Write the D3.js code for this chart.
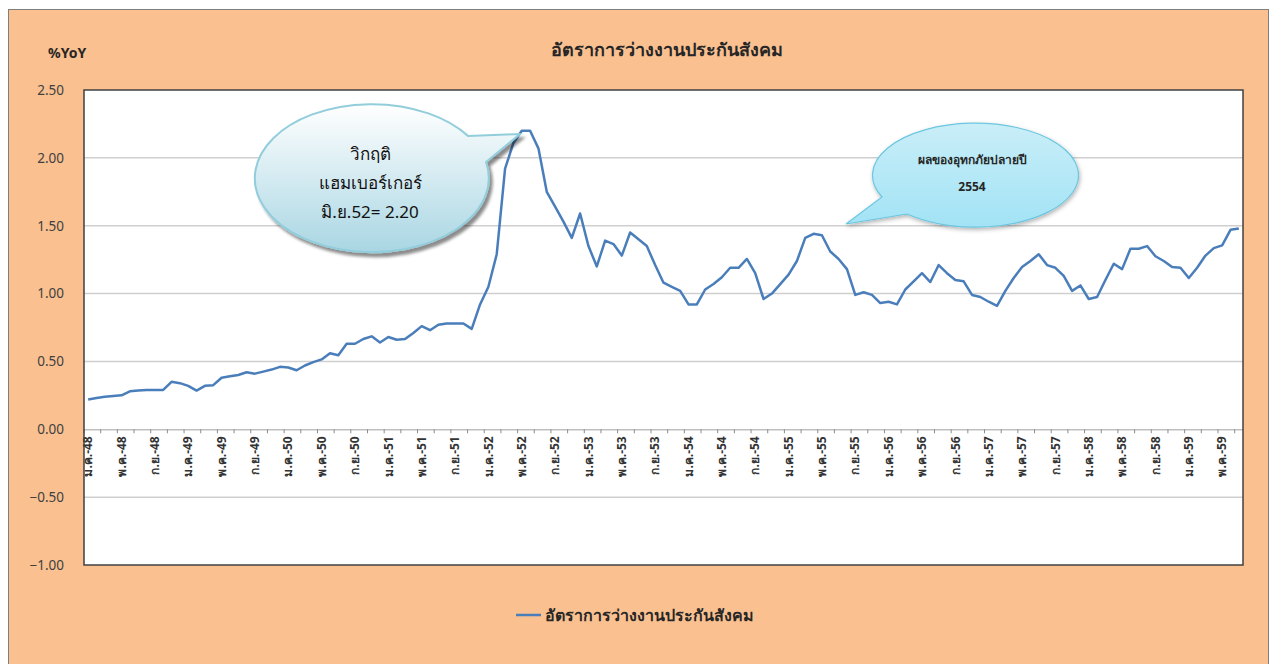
<!DOCTYPE html>
<html>
<head>
<meta charset="utf-8">
<script src="https://cdn.jsdelivr.net/npm/d3@7"></script>
<style>
  body { margin: 0; background: #fff; }
  svg text { font-family: Tahoma, "Noto Sans", "DejaVu Sans", sans-serif; }
</style>
</head>
<body>
<div id="chart"></div>
<script>
// month names and years (Thai Buddhist era, 2 digits)
var months = ["ม.ค.", "ก.พ.", "มี.ค.", "เม.ย.", "พ.ค.", "มิ.ย.", "ก.ค.", "ส.ค.", "ก.ย.", "ต.ค.", "พ.ย.", "ธ.ค."];
var years = [48, 49, 50, 51, 52, 53, 54, 55, 56, 57, 58, 59];

// monthly %YoY, ม.ค.-48 .. ก.ค.-59
var values = [
  0.22, 0.23, 0.24, 0.245, 0.25, 0.28, 0.285, 0.29, 0.29, 0.29, 0.35, 0.34,
  0.32, 0.285, 0.32, 0.325, 0.38, 0.39, 0.40, 0.42, 0.41, 0.425, 0.44, 0.46,
  0.455, 0.435, 0.47, 0.495, 0.515, 0.56, 0.545, 0.63, 0.63, 0.665, 0.685, 0.64,
  0.68, 0.66, 0.665, 0.71, 0.76, 0.73, 0.77, 0.78, 0.78, 0.78, 0.74, 0.92,
  1.05, 1.29, 1.92, 2.11, 2.20, 2.20, 2.07, 1.75, 1.64, 1.53, 1.41, 1.59,
  1.35, 1.20, 1.39, 1.365, 1.28, 1.45, 1.40, 1.35, 1.21, 1.08, 1.05, 1.02,
  0.92, 0.92, 1.03, 1.07, 1.12, 1.19, 1.19, 1.255, 1.15, 0.96, 1.00, 1.07,
  1.14, 1.24, 1.41, 1.44, 1.43, 1.31, 1.255, 1.18, 0.99, 1.01, 0.99, 0.93,
  0.94, 0.92, 1.03, 1.09, 1.15, 1.085, 1.21, 1.15, 1.10, 1.09, 0.99, 0.975,
  0.94, 0.91, 1.02, 1.115, 1.195, 1.24, 1.29, 1.21, 1.19, 1.13, 1.02, 1.06,
  0.96, 0.975, 1.10, 1.22, 1.18, 1.33, 1.33, 1.35, 1.275, 1.24, 1.195, 1.19,
  1.115, 1.19, 1.28, 1.335, 1.355, 1.47, 1.48
];

var yTicks = [2.5, 2.0, 1.5, 1.0, 0.5, 0.0, -0.5, -1.0];

var title = "อัตราการว่างงานประกันสังคม";
var seriesName = "อัตราการว่างงานประกันสังคม";
var callout1 = ["วิกฤติ", "แฮมเบอร์เกอร์", "มิ.ย.52= 2.20"];
var callout2 = ["ผลของอุทกภัยปลายปี", "2554"];

// build category labels
var categories = [];
years.forEach(function(y) {
  months.forEach(function(m) {
    if (categories.length < values.length) categories.push(m + "-" + y);
  });
});
var data = categories.map(function(c, i) { return {cat: c, v: values[i]}; });

var W = 1274, H = 664;
var margin = {top: 90, right: 31, bottom: 99, left: 84},
    width = W - margin.left - margin.right,
    height = H - margin.top - margin.bottom;

var svg = d3.select("#chart")
  .append("svg")
    .attr("width", W)
    .attr("height", H);

var defs = svg.append("defs");
var g1 = defs.append("linearGradient").attr("id", "bub1").attr("x1", 0).attr("y1", 0).attr("x2", 0).attr("y2", 1);
g1.append("stop").attr("offset", "0%").attr("stop-color", "#ffffff");
g1.append("stop").attr("offset", "100%").attr("stop-color", "#a9d6e3");
var g2 = defs.append("linearGradient").attr("id", "bub2").attr("x1", 0).attr("y1", 0).attr("x2", 0).attr("y2", 1);
g2.append("stop").attr("offset", "0%").attr("stop-color", "#c9eef8");
g2.append("stop").attr("offset", "100%").attr("stop-color", "#a2e3f5");
var sh = defs.append("filter").attr("id", "shadow").attr("x", "-20%").attr("y", "-20%").attr("width", "150%").attr("height", "150%");
sh.append("feDropShadow").attr("dx", 3).attr("dy", 4).attr("stdDeviation", 1.5)
  .attr("flood-color", "#000").attr("flood-opacity", 0.45);
var sh2 = defs.append("filter").attr("id", "shadow2").attr("x", "-20%").attr("y", "-20%").attr("width", "150%").attr("height", "150%");
sh2.append("feDropShadow").attr("dx", 1).attr("dy", 2).attr("stdDeviation", 2)
  .attr("flood-color", "#000").attr("flood-opacity", 0.3);

// chart background
svg.append("rect")
  .attr("x", 8.5).attr("y", 9.5)
  .attr("width", 1260).attr("height", 670)
  .attr("fill", "#fac090")
  .attr("stroke", "#7f7f7f")
  .attr("stroke-width", 1);

// title
svg.append("text")
  .attr("x", 667).attr("y", 56)
  .attr("text-anchor", "middle")
  .style("font-size", "18px")
  .style("font-weight", "bold")
  .attr("fill", "#262626")
  .text(title);

svg.append("text")
  .attr("x", 48).attr("y", 58)
  .style("font-size", "14px")
  .style("font-weight", "bold")
  .attr("fill", "#262626")
  .text("%YoY");

var plot = svg.append("g")
  .attr("transform", "translate(" + margin.left + "," + margin.top + ")");

// plot area
plot.append("rect")
  .attr("width", width).attr("height", height)
  .attr("fill", "#fff");

// scales
var x = d3.scaleBand()
  .domain(categories)
  .range([0, width])
  .padding(0);

var y = d3.scaleLinear()
  .domain([-1, 2.5])
  .range([height, 0]);

// gridlines
plot.selectAll(".grid")
  .data(yTicks.filter(function(t) { return t !== 0 && t !== 2.5 && t !== -1; }))
  .enter()
  .append("line")
    .attr("x1", 0).attr("x2", width)
    .attr("y1", function(d) { return y(d); })
    .attr("y2", function(d) { return y(d); })
    .attr("stroke", "#cfcfcf")
    .attr("stroke-width", 1.5);

// y axis labels
var yAxis = plot.append("g")
  .call(d3.axisLeft(y).tickValues(yTicks).tickSize(0).tickPadding(20)
    .tickFormat(d3.format(".2f")));
yAxis.select(".domain").remove();
yAxis.selectAll("text")
  .style("font-size", "13.5px")
  .attr("fill", "#404040");

// x axis along zero
var xAxis = plot.append("g")
  .attr("transform", "translate(0," + y(0) + ")")
  .call(d3.axisBottom(x)
    .tickValues(categories.filter(function(d, i) { return i % 4 === 0; }))
    .tickSize(0));
xAxis.select(".domain").attr("stroke", "#bfbfbf").attr("stroke-width", 1.5);
xAxis.selectAll("text")
  .attr("transform", "rotate(-90)")
  .attr("x", -7)
  .attr("y", 0)
  .attr("dy", "0.35em")
  .style("text-anchor", "end")
  .style("font-size", "12px")
  .style("font-weight", "bold")
  .attr("fill", "#333");

// tick marks every 2 months, at category boundaries
plot.append("g")
  .selectAll("line")
  .data(categories.filter(function(d, i) { return i % 2 === 0; }))
  .enter()
  .append("line")
    .attr("x1", function(d) { return x(d); })
    .attr("x2", function(d) { return x(d); })
    .attr("y1", y(0))
    .attr("y2", y(0) + 4)
    .attr("stroke", "#8c8c8c")
    .attr("stroke-width", 1);

// plot border
plot.append("rect")
  .attr("width", width).attr("height", height)
  .attr("fill", "none")
  .attr("stroke", "#404040")
  .attr("stroke-width", 1.5);

// series line
var line = d3.line()
  .x(function(d) { return x(d.cat) + x.bandwidth() / 2; })
  .y(function(d) { return y(d.v); });

plot.append("path")
  .datum(data)
  .attr("fill", "none")
  .attr("stroke", "#4a7ebb")
  .attr("stroke-width", 2.5)
  .attr("stroke-linejoin", "round")
  .attr("d", line);

// callout 1: hamburger crisis
var b1 = svg.append("g").attr("filter", "url(#shadow)");
b1.append("path")
  .attr("d", "M 468 136 L 520 134 L 486 162 A 117 74 0 1 1 468 136 Z")
  .attr("fill", "url(#bub1)")
  .attr("stroke", "#92cddc")
  .attr("stroke-width", 2);
svg.append("g").selectAll("text")
  .data(callout1)
  .enter()
  .append("text")
    .attr("x", 370)
    .attr("y", function(d, i) { return 160 + i * 29; })
    .attr("text-anchor", "middle")
    .style("font-size", "17px")
    .attr("fill", "#111")
    .text(function(d) { return d; });

// callout 2: flood 2554
var b2 = svg.append("g").attr("filter", "url(#shadow2)");
b2.append("path")
  .attr("d", "M 907 214 L 846 224 L 882 197 A 103 52 0 1 1 907 214 Z")
  .attr("fill", "url(#bub2)")
  .attr("stroke", "#6cc6e0")
  .attr("stroke-width", 1.2);
svg.append("g").selectAll("text")
  .data(callout2)
  .enter()
  .append("text")
    .attr("x", 972)
    .attr("y", function(d, i) { return 164 + i * 27; })
    .attr("text-anchor", "middle")
    .style("font-size", "12px")
    .style("font-weight", "bold")
    .attr("fill", "#262626")
    .text(function(d) { return d; });

// legend
svg.append("line")
  .attr("x1", 516).attr("x2", 541)
  .attr("y1", 615).attr("y2", 615)
  .attr("stroke", "#4a7ebb")
  .attr("stroke-width", 2.5);
svg.append("text")
  .attr("x", 545).attr("y", 621)
  .style("font-size", "16px")
  .style("font-weight", "bold")
  .attr("fill", "#262626")
  .text(seriesName);
</script>
</body>
</html>
